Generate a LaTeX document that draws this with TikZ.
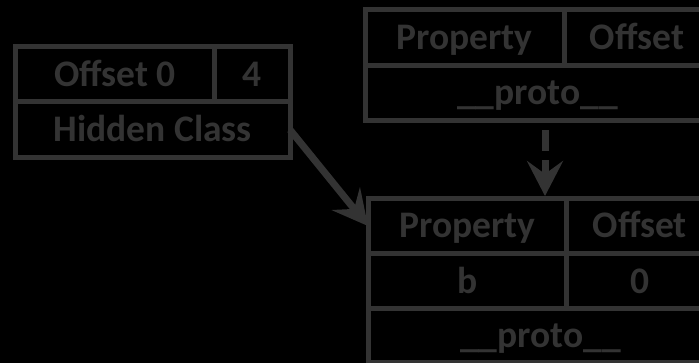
\documentclass[tikz,border=0pt]{standalone}
\usepackage{fontspec}
\setmainfont{Carlito}
\usetikzlibrary{arrows.meta}
\definecolor{ink}{HTML}{333333}
\begin{document}
\begin{tikzpicture}[x=1pt,y=-1pt,
  cell/.style={draw=ink, line width=5pt, line join=miter, inner sep=0pt, outer sep=0pt,
    anchor=north west, text=ink, font=\bfseries\fontsize{37.5}{37.5}\selectfont,
    text height=24pt, text depth=0pt},
  link/.style={draw=ink, line width=7pt, -{Stealth[length=35pt,width=36pt,inset=13pt]}}]
  % page and background
  \fill[black] (0,0) rectangle (699,363);
  \useasboundingbox (0,0) rectangle (699,363);
  \clip (0,0) rectangle (699,363);

  % object: offset table and hidden class slot
  \node[cell, minimum width=199pt,   minimum height=55.5pt] (ao) at (15.5,46.5) {Offset 0};
  \node[cell, minimum width=75.5pt,  minimum height=55.5pt] (af) at (214.5,46.5) {4};
  \node[cell, minimum width=274.5pt, minimum height=55.5pt] (hc) at (15.5,102) {Hidden Class};

  % prototype hidden class
  \node[cell, minimum width=199pt, minimum height=55.5pt] (up)  at (365,10) {Property};
  \node[cell, minimum width=146pt, minimum height=55.5pt] (uo)  at (564,10) {Offset};
  \node[cell, minimum width=345pt, minimum height=55pt]   (upr) at (365,65.5) {\_\_proto\_\_};

  % derived hidden class
  \node[cell, minimum width=198.7pt, minimum height=55pt]   (lp)  at (368,198.5) {Property};
  \node[cell, minimum width=146.3pt, minimum height=55pt]   (lo)  at (566.7,198.5) {Offset};
  \node[cell, minimum width=198.7pt, minimum height=55.5pt] (lb)  at (368,253.5) {b};
  \node[cell, minimum width=146.3pt, minimum height=55.5pt] (l0)  at (566.7,253.5) {0};
  \node[cell, minimum width=345pt,   minimum height=53.5pt] (lpr) at (368,309) {\_\_proto\_\_};

  % connectors
  \draw[link] (hc.east) -- (lp.west);
  \coordinate (dtop) at ([xshift=7.5pt]upr.south);
  \draw[link, dash pattern=on 21pt off 9.5pt, dash phase=21pt, shorten >=2.5pt]
    (dtop) -- (dtop |- lp.north);
\end{tikzpicture}
\end{document}
